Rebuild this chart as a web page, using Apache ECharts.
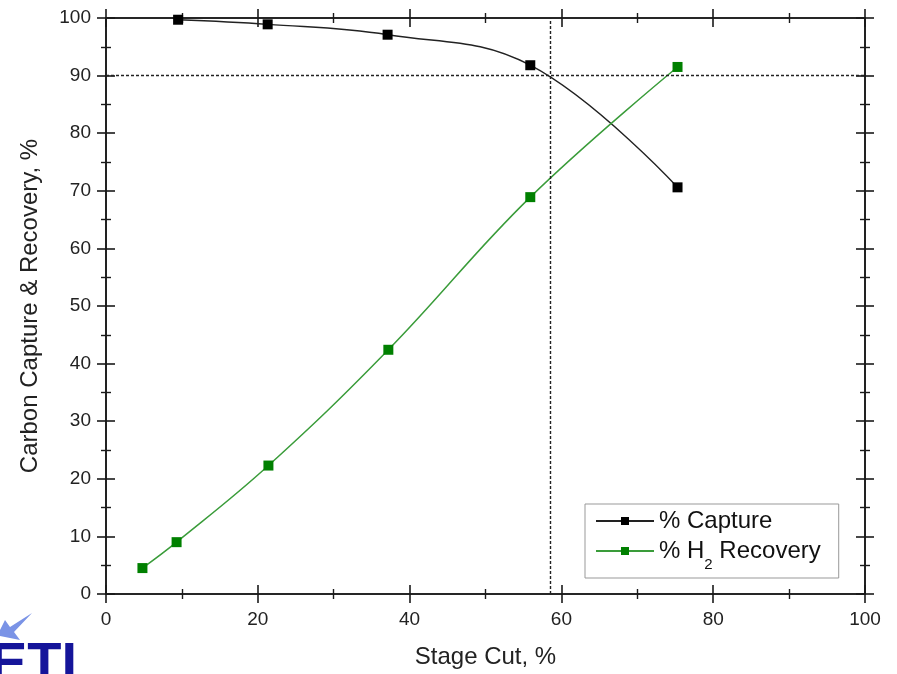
<!DOCTYPE html>
<html>
<head>
<meta charset="utf-8">
<style>html,body{margin:0;padding:0;background:#fff}#c{width:897px;height:674px}</style>
<script src="https://cdn.jsdelivr.net/npm/echarts@6/dist/echarts.min.js"></script>
</head>
<body>
<div id="c"></div>
<script>
const captureData = [[9.5, 99.7], [21.3, 98.9], [37.1, 97.1], [55.9, 91.8], [75.3, 70.6]];
const recoveryData = [[4.8, 4.5], [9.3, 9.0], [21.4, 22.3], [37.2, 42.4], [55.9, 68.9], [75.3, 91.5]];
const seriesNames = ['% Capture', '% H2 Recovery'];
const refX = 58.5;
const refY = 90;
const xName = 'Stage Cut, %';
const yName = 'Carbon Capture & Recovery, %';

const chart = echarts.init(document.getElementById('c'));
const axisColor = '#1a1a1a';
const font = 'Liberation Sans, Arial, sans-serif';

function xAx(pos, inside, main) {
  return {
    type: 'value', position: pos, min: 0, max: 100, interval: 20,
    name: main ? xName : '', nameLocation: 'middle', nameGap: 51,
    nameTextStyle: {fontSize: 24, color: '#222', fontFamily: font},
    axisLine: {show: true, onZero: false, lineStyle: {color: axisColor, width: 1.6}},
    axisTick: {show: true, inside: inside, length: 9, lineStyle: {color: axisColor, width: 1.6}},
    minorTick: {show: true, splitNumber: 2, length: 5, lineStyle: {color: axisColor, width: 1.4}},
    axisLabel: {show: main, fontSize: 19, color: '#222', fontFamily: font, margin: 16},
    splitLine: {show: false}
  };
}
function yAx(pos, inside, main) {
  return {
    type: 'value', position: pos, min: 0, max: 100, interval: 10,
    name: main ? yName : '', nameLocation: 'middle', nameGap: 64,
    nameTextStyle: {fontSize: 24, color: '#222', fontFamily: font},
    axisLine: {show: true, onZero: false, lineStyle: {color: axisColor, width: 1.6}},
    axisTick: {show: true, inside: inside, length: 9, lineStyle: {color: axisColor, width: 1.6}},
    minorTick: {show: true, splitNumber: 2, length: 5, lineStyle: {color: axisColor, width: 1.4}},
    axisLabel: {show: main, fontSize: 19, color: '#222', fontFamily: font, margin: 15},
    splitLine: {show: false}
  };
}

chart.setOption({
  animation: false,
  grid: {left: 106, right: 32, top: 18, bottom: 78},
  xAxis: [xAx('bottom', false, true), xAx('bottom', true, false), xAx('top', true, false), xAx('top', false, false)],
  yAxis: [yAx('left', false, true), yAx('left', true, false), yAx('right', true, false), yAx('right', false, false)],
  legend: {
    left: 585, top: 504, orient: 'vertical',
    itemWidth: 58, itemHeight: 10, itemGap: 6,
    padding: [5, 18, 6, 10],
    borderColor: '#999', borderWidth: 1,
    data: seriesNames,
    formatter: function (n) { return n === seriesNames[1] ? '{t|% H}{s|2}{t| Recovery}' : '{t|' + n + '}'; },
    textStyle: {
      fontSize: 24, color: '#111', fontFamily: font,
      rich: {t: {fontSize: 24, color: '#111', fontFamily: font},
             s: {fontSize: 15, color: '#111', fontFamily: font, verticalAlign: 'bottom', padding: [0, 0, -9, 0]}}
    }
  },
  graphic: [
    {type: 'polygon', shape: {points: [[32, 613], [10, 627], [5, 620], [0, 630], [0, 636], [20, 640], [14, 632]]}, style: {fill: '#7a93e6'}},
    {type: 'text', left: -10, top: 638, style: {text: 'ETI', font: 'bold 56px Liberation Sans, Arial, sans-serif', fill: '#15159a'}}
  ],
  series: [
    {
      name: seriesNames[0], type: 'line', data: captureData, smooth: 0.4,
      symbol: 'rect', symbolSize: 10,
      lineStyle: {color: '#222', width: 1.4}, itemStyle: {color: '#000'},
      markLine: {
        silent: true, symbol: 'none', label: {show: false},
        lineStyle: {color: '#222', type: [3, 2], width: 1.4},
        data: [{xAxis: refX}, {yAxis: refY}]
      }
    },
    {
      name: seriesNames[1], type: 'line', data: recoveryData, smooth: 0.4,
      symbol: 'rect', symbolSize: 10,
      lineStyle: {color: '#3a9c3a', width: 1.5}, itemStyle: {color: '#008000'}
    }
  ]
});
</script>
</body>
</html>
